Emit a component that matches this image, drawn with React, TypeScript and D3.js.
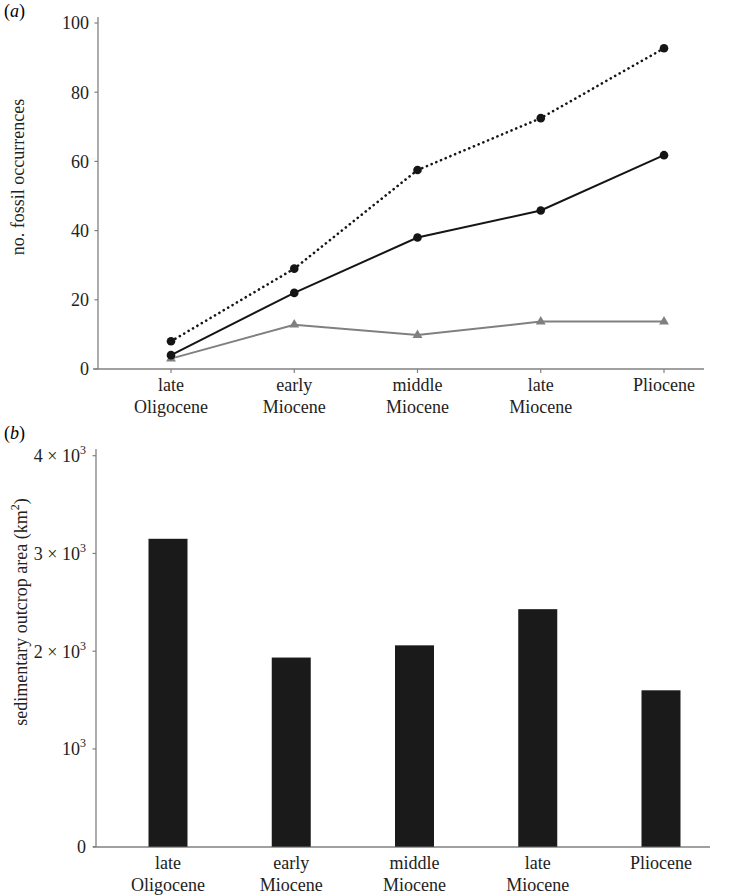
import React from "react";
import * as d3 from "d3";

const categories = ["late Oligocene", "early Miocene", "middle Miocene", "late Miocene", "Pliocene"];
const catLines: string[][] = [["late", "Oligocene"], ["early", "Miocene"], ["middle", "Miocene"], ["late", "Miocene"], ["Pliocene"]];
const dottedSeries = [8, 29, 57.5, 72.5, 92.7];
const solidSeries = [4, 22, 38, 45.8, 61.8];
const graySeries = [3, 12.8, 9.8, 13.7, 13.7];
const occTicks = [0, 20, 40, 60, 80, 100];
const outcropArea = [3150, 1935, 2060, 2430, 1600];
const areaTicks = [0, 1000, 2000, 3000, 4000];

const FONT = "'Liberation Serif', 'Times New Roman', serif";
const AXIS = "#808080";

export default function App() {
  // Panel (a)
  const xa = d3.scalePoint<string>().domain(categories).range([171, 664]);
  const ya = d3.scaleLinear().domain([0, 100]).range([369, 23]);
  const line = d3
    .line<number>()
    .x((_, i) => xa(categories[i]) as number)
    .y((d) => ya(d));

  // Panel (b)
  const xb = d3.scalePoint<string>().domain(categories).range([168, 661]);
  const yb = d3.scaleLinear().domain([0, 4000]).range([846.7, 455.7]);
  const barW = 39;

  const tri = d3.symbol().type(d3.symbolTriangle).size(42)();

  const fmtArea = (v: number) => {
    if (v === 0) return <tspan>0</tspan>;
    const m = v / 1000;
    return (
      <>
        <tspan>{m === 1 ? "10" : `${m} \u00d7 10`}</tspan>
        <tspan fontSize={12} dy={-8}>3</tspan>
      </>
    );
  };

  return (
    <svg
      width={733}
      height={895}
      style={{ position: "absolute", left: 0, top: 0, background: "#fff" }}
      fontFamily={FONT}
    >
      {/* Panel labels */}
      <text x={4} y={17} fontSize={18}>
        (<tspan fontStyle="italic">a</tspan>)
      </text>
      <text x={4} y={439} fontSize={18}>
        (<tspan fontStyle="italic">b</tspan>)
      </text>

      {/* ---------- Panel (a) ---------- */}
      <line x1={98} x2={98} y1={17} y2={369} stroke={AXIS} strokeWidth={1.3} />
      <line x1={93} x2={704} y1={369} y2={369} stroke={AXIS} strokeWidth={1.3} />
      {occTicks.map((t) => (
        <g key={"ya" + t}>
          <line x1={94.5} x2={98} y1={ya(t)} y2={ya(t)} stroke={AXIS} strokeWidth={1.2} />
          <text x={89} y={ya(t)} dy="0.35em" textAnchor="end" fontSize={18} fill="#222">
            {t}
          </text>
        </g>
      ))}
      {categories.map((c, i) => (
        <g key={"xa" + c}>
          <line x1={xa(c)} x2={xa(c)} y1={369} y2={373} stroke={AXIS} strokeWidth={1.2} />
          {catLines[i].map((l, j) => (
            <text key={j} x={xa(c)} y={391 + j * 22} textAnchor="middle" fontSize={18} fill="#222">
              {l}
            </text>
          ))}
        </g>
      ))}
      <text
        transform={`translate(24,177) rotate(-90)`}
        textAnchor="middle"
        fontSize={18}
        fill="#222"
      >
        no. fossil occurrences
      </text>

      <path d={line(graySeries) || ""} fill="none" stroke="#808080" strokeWidth={2} />
      <path d={line(solidSeries) || ""} fill="none" stroke="#151515" strokeWidth={2} />
      <path
        d={line(dottedSeries) || ""}
        fill="none"
        stroke="#151515"
        strokeWidth={2.6}
        strokeDasharray="0.1 5"
        strokeLinecap="round"
      />
      {graySeries.map((v, i) => (
        <path
          key={"g" + i}
          d={tri || ""}
          transform={`translate(${xa(categories[i])},${ya(v)})`}
          fill="#808080"
        />
      ))}
      {solidSeries.map((v, i) => (
        <circle key={"s" + i} cx={xa(categories[i])} cy={ya(v)} r={4.3} fill="#151515" />
      ))}
      {dottedSeries.map((v, i) => (
        <circle key={"d" + i} cx={xa(categories[i])} cy={ya(v)} r={4.3} fill="#151515" />
      ))}

      {/* ---------- Panel (b) ---------- */}
      <line x1={96} x2={96} y1={449} y2={847} stroke={AXIS} strokeWidth={1.3} />
      <line x1={93} x2={710} y1={847} y2={847} stroke={AXIS} strokeWidth={1.3} />
      {areaTicks.map((t) => (
        <g key={"yb" + t}>
          <line x1={92.5} x2={96} y1={yb(t)} y2={yb(t)} stroke={AXIS} strokeWidth={1.2} />
          <text x={86} y={yb(t)} dy="0.35em" textAnchor="end" fontSize={18} fill="#222">
            {fmtArea(t)}
          </text>
        </g>
      ))}
      {outcropArea.map((v, i) => (
        <rect
          key={"b" + i}
          x={(xb(categories[i]) as number) - barW / 2}
          y={yb(v)}
          width={barW}
          height={yb(0) - yb(v)}
          fill="#1a1a1a"
        />
      ))}
      {categories.map((c, i) => (
        <g key={"xb" + c}>
          {catLines[i].map((l, j) => (
            <text key={j} x={xb(c)} y={869 + j * 22} textAnchor="middle" fontSize={18} fill="#222">
              {l}
            </text>
          ))}
        </g>
      ))}
      <text
        transform={`translate(27,612) rotate(-90)`}
        textAnchor="middle"
        fontSize={18}
        fill="#222"
      >
        sedimentary outcrop area (km
        <tspan fontSize={12} dy={-8}>2</tspan>
        <tspan dy={8}>)</tspan>
      </text>
    </svg>
  );
}
